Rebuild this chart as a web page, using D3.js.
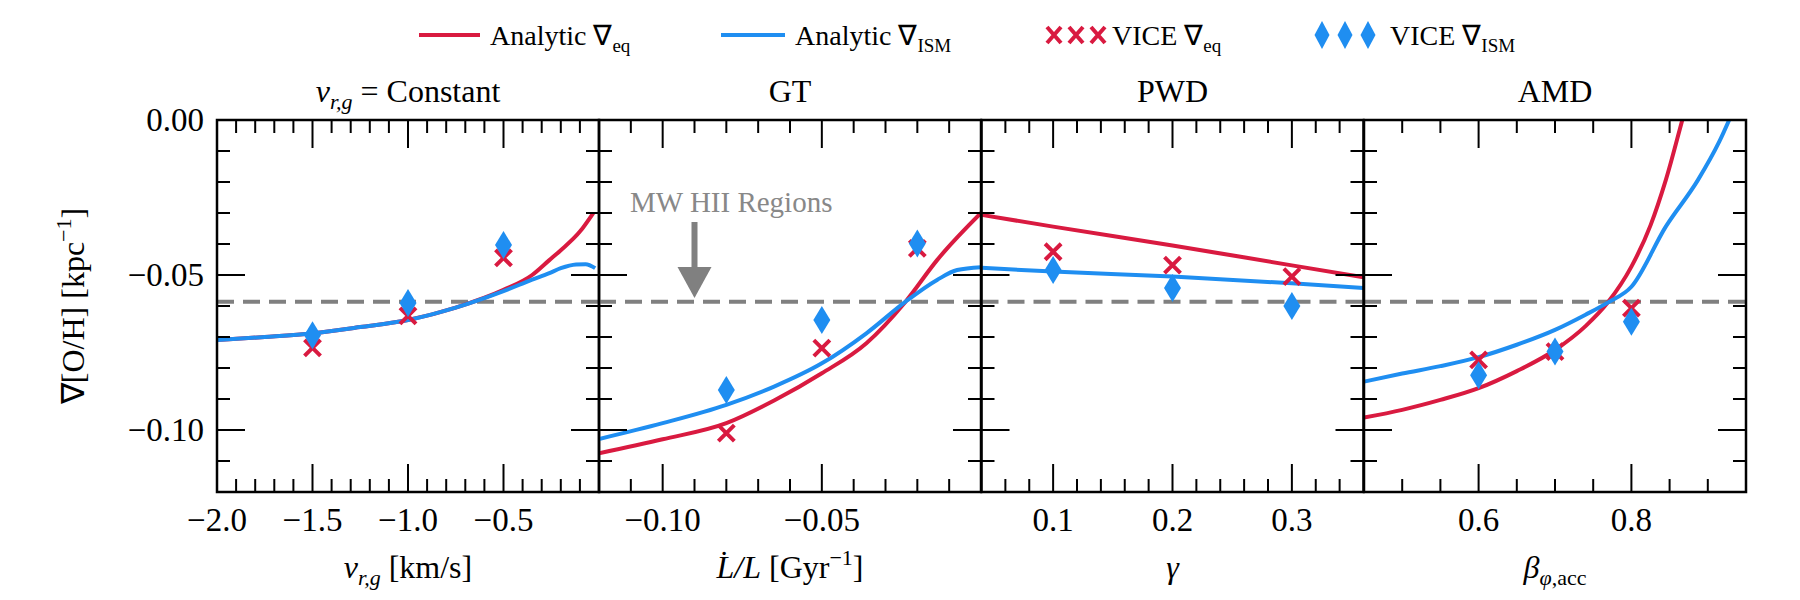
<!DOCTYPE html>
<html><head><meta charset="utf-8">
<script src="https://cdn.jsdelivr.net/npm/d3@7/dist/d3.min.js"></script>
<style>body{margin:0;background:#fff}text{font-family:"Liberation Serif","Times New Roman",serif}</style>
</head><body><svg id="c" width="1800" height="600"></svg>
<script>
// ---- data ----
const panelTitles = ["v_rg = Constant", "GT", "PWD", "AMD"];
const xDomains = [[-2, 0], [-0.12, 0], [0.04, 0.36], [0.45, 0.95]];
const xMajorTicks = [[-2.0, -1.5, -1.0, -0.5], [-0.10, -0.05], [0.1, 0.2, 0.3], [0.6, 0.8]];
const xMinorStep = [0.1, 0.01, 0.02, 0.05];
const xTickFormats = [".1f", ".2f", ".1f", ".1f"];
const yTicks = [0.00, -0.05, -0.10];
const hiiLevel = -0.0586;

// Analytic curves [x, grad]
const p1Eq = [[-2,-0.0710],[-1.75,-0.0700],[-1.5,-0.0688],[-1.25,-0.0668],[-1.0,-0.0645],[-0.75,-0.0605],[-0.5,-0.0548],[-0.35,-0.0500],[-0.26,-0.0452],[-0.2,-0.0420],[-0.1,-0.0360],[-0.03,-0.0300]];
const p1Ism = [[-2,-0.0710],[-1.75,-0.0700],[-1.5,-0.0688],[-1.25,-0.0668],[-1.0,-0.0645],[-0.75,-0.0605],[-0.5,-0.0552],[-0.35,-0.0515],[-0.26,-0.0494],[-0.2,-0.0478],[-0.12,-0.0466],[-0.07,-0.0465],[-0.02,-0.0478]];
const p2Eq = [[-0.12,-0.1075],[-0.10,-0.1030],[-0.08,-0.0978],[-0.065,-0.0905],[-0.05,-0.0817],[-0.036,-0.0720],[-0.0237,-0.0586],[-0.0138,-0.0452],[0,-0.0300]];
const p2Ism = [[-0.12,-0.1029],[-0.10,-0.0978],[-0.08,-0.0919],[-0.065,-0.0860],[-0.05,-0.0785],[-0.036,-0.0688],[-0.0237,-0.0586],[-0.0138,-0.0516],[-0.0075,-0.0484],[0,-0.0475]];
const p3Eq = [[0.04,-0.0306],[0.1,-0.0344],[0.2,-0.0405],[0.3,-0.0469],[0.36,-0.0507]];
const p3Ism = [[0.04,-0.0477],[0.1,-0.0489],[0.2,-0.0505],[0.3,-0.0527],[0.36,-0.0542]];
const p4Eq = [[0.45,-0.0960],[0.5,-0.0935],[0.55,-0.0903],[0.6,-0.0865],[0.65,-0.0810],[0.7,-0.0742],[0.74,-0.0665],[0.769,-0.0589],[0.8,-0.0473],[0.825,-0.0340],[0.845,-0.0194],[0.87,0.003],[0.89,0.02]];
const p4Ism = [[0.45,-0.0844],[0.5,-0.0818],[0.55,-0.0794],[0.6,-0.0765],[0.65,-0.0725],[0.7,-0.0677],[0.74,-0.0628],[0.769,-0.0589],[0.8,-0.0538],[0.845,-0.0344],[0.887,-0.0194],[0.915,-0.0070],[0.935,0.004]];
const eqCurves = [p1Eq, p2Eq, p3Eq, p4Eq];
const ismCurves = [p1Ism, p2Ism, p3Ism, p4Ism];

// VICE points
const viceX = [[-1.5,-1.0,-0.5],[-0.08,-0.05,-0.02],[0.1,0.2,0.3],[0.6,0.7,0.8]];
const viceEq = [[-0.0735,-0.0632,-0.0445],[-0.1010,-0.0736,-0.0414],[-0.0425,-0.0468,-0.0505],[-0.0774,-0.0747,-0.0607]];
const viceIsm = [[-0.0694,-0.0590,-0.0403],[-0.0871,-0.0645,-0.0398],[-0.0484,-0.0542,-0.0600],[-0.0823,-0.0747,-0.0651]];

// ---- drawing ----
const RED = "#d91a40", BLUE = "#1f8ef1";
const svg = d3.select("#c");
const panelLeft = [217, 599, 981.5, 1364], panelW = 382;
const yTop = 120, yBot = 492;
const y = d3.scaleLinear().domain([-0.12, 0]).range([yBot, yTop]);
const defs = svg.append("defs");

function minorRange(dom, step){
  const a = Math.ceil(dom[0]/step - 1e-6), b = Math.floor(dom[1]/step + 1e-6);
  return d3.range(a, b+1).map(i => +(i*step).toFixed(6));
}

panelLeft.forEach((L, i) => {
  const x = d3.scaleLinear().domain(xDomains[i]).range([L, L + panelW]);
  const g = svg.append("g");
  defs.append("clipPath").attr("id", "clip"+i).append("rect")
    .attr("x", L).attr("y", yTop).attr("width", panelW).attr("height", yBot - yTop);
  const pg = g.append("g").attr("clip-path", `url(#clip${i})`);

  pg.append("line").attr("x1", L).attr("x2", L+panelW).attr("y1", y(hiiLevel)).attr("y2", y(hiiLevel))
    .attr("stroke", "#808080").attr("stroke-width", 4).attr("stroke-dasharray", "17,9");

  const line = d3.line().x(d => x(d[0])).y(d => y(d[1])).curve(d3.curveMonotoneX);
  pg.append("path").datum(eqCurves[i]).attr("d", line).attr("fill","none").attr("stroke", RED).attr("stroke-width", 4);
  pg.append("path").datum(ismCurves[i]).attr("d", line).attr("fill","none").attr("stroke", BLUE).attr("stroke-width", 4);

  viceX[i].forEach((vx, j) => {
    const cx = x(vx), cy = y(viceEq[i][j]), s = 8;
    pg.append("path").attr("d", `M${cx-s},${cy-s}L${cx+s},${cy+s}M${cx-s},${cy+s}L${cx+s},${cy-s}`)
      .attr("stroke", RED).attr("stroke-width", 4).attr("fill","none");
  });
  viceX[i].forEach((vx, j) => {
    const cx = x(vx), cy = y(viceIsm[i][j]);
    pg.append("path").attr("d", `M${cx},${cy-14}L${cx+8.5},${cy}L${cx},${cy+14}L${cx-8.5},${cy}Z`).attr("fill", BLUE);
  });

  const tk = (x1,y1,x2,y2) => g.append("line").attr("x1",x1).attr("y1",y1).attr("x2",x2).attr("y2",y2).attr("stroke","#000").attr("stroke-width",2);
  const majX = xMajorTicks[i];
  minorRange(xDomains[i], xMinorStep[i]).forEach(v => {
    const isMaj = majX.some(m => Math.abs(m - v) < 1e-6);
    const len = isMaj ? 28 : 13, px = x(v);
    if (px <= L + 1 || px >= L + panelW - 1) return;
    tk(px, yBot, px, yBot - len); tk(px, yTop, px, yTop + len);
  });
  minorRange([-0.12, 0], 0.01).forEach(v => {
    const isMaj = yTicks.some(m => Math.abs(m - v) < 1e-6);
    const len = isMaj ? 28 : 13, py = y(v);
    tk(L, py, L + len, py); tk(L + panelW, py, L + panelW - len, py);
  });
  g.append("rect").attr("x", L).attr("y", yTop).attr("width", panelW).attr("height", yBot-yTop)
    .attr("fill","none").attr("stroke","#000").attr("stroke-width", 2.5);

  const fx = d3.format(xTickFormats[i]);
  majX.forEach(v => g.append("text").attr("x", x(v)).attr("y", 531).attr("text-anchor","middle")
    .attr("font-size", 33).text(fx(v)));

  if (i === 1) {
    const ax = x(-0.09);
    g.append("text").attr("x", 630).attr("y", 212).attr("font-size", 29).attr("fill", "#888").text("MW HII Regions");
    g.append("rect").attr("x", ax-3).attr("y", 222).attr("width", 6).attr("height", 48).attr("fill", "#808080");
    g.append("path").attr("d", `M${ax-17},267L${ax+17},267L${ax},298Z`).attr("fill", "#808080");
  }
});

const fy = d3.format(".2f");
yTicks.forEach(v => svg.append("text").attr("x", 204).attr("y", y(v) + 11).attr("text-anchor","end")
  .attr("font-size", 33).text(fy(v)));

const cx = i => panelLeft[i] + panelW/2;
let t = svg.append("text").attr("x", cx(0)).attr("y", 102).attr("text-anchor","middle").attr("font-size", 32);
t.append("tspan").attr("font-style","italic").text("v");
t.append("tspan").attr("font-style","italic").attr("font-size", 22).attr("dy", 7).text("r,g");
t.append("tspan").attr("dy", -7).text(" = Constant");
[1,2,3].forEach(i => svg.append("text").attr("x", cx(i)).attr("y", 102).attr("text-anchor","middle").attr("font-size", 32).text(panelTitles[i]));

function xl(i){ return svg.append("text").attr("x", cx(i)).attr("y", 578).attr("text-anchor","middle").attr("font-size", 32); }
t = xl(0);
t.append("tspan").attr("font-style","italic").text("v");
t.append("tspan").attr("font-style","italic").attr("font-size", 22).attr("dy", 7).text("r,g");
t.append("tspan").attr("dy", -7).text(" [km/s]");
t = xl(1);
t.append("tspan").attr("font-style","italic").text("L\u0307/L");
t.append("tspan").text(" [Gyr");
t.append("tspan").attr("font-size", 22).attr("dy", -13).text("\u22121");
t.append("tspan").attr("dy", 13).text("]");
t = xl(2); t.append("tspan").attr("font-style","italic").text("\u03b3");
t = xl(3);
t.append("tspan").attr("font-style","italic").text("\u03b2");
t.append("tspan").attr("font-style","italic").attr("font-size", 22).attr("dy", 7).text("\u03c6");
t.append("tspan").attr("font-size", 22).text(",acc");

t = svg.append("text").attr("transform", `translate(84,${(yTop+yBot)/2}) rotate(-90)`).attr("text-anchor","middle").attr("font-size", 32);
t.append("tspan").text("\u2207[O/H] [kpc");
t.append("tspan").attr("font-size", 22).attr("dy", -13).text("\u22121");
t.append("tspan").attr("dy", 13).text("]");

const leg = svg.append("g");
function legText(x, main, sub){
  const tt = leg.append("text").attr("x", x).attr("y", 45).attr("font-size", 28);
  tt.append("tspan").text(main);
  tt.append("tspan").attr("font-size", 19).attr("dy", 7).text(sub);
}
leg.append("line").attr("x1",419).attr("x2",480).attr("y1",35).attr("y2",35).attr("stroke",RED).attr("stroke-width",4);
legText(490, "Analytic \u2207", "eq");
leg.append("line").attr("x1",721).attr("x2",785).attr("y1",35).attr("y2",35).attr("stroke",BLUE).attr("stroke-width",4);
legText(795, "Analytic \u2207", "ISM");
[1054, 1076, 1098].forEach(mx => leg.append("path").attr("d", `M${mx-7},${35-8}L${mx+7},${35+8}M${mx-7},${35+8}L${mx+7},${35-8}`).attr("stroke",RED).attr("stroke-width",4));
legText(1112, "VICE \u2207", "eq");
[1322, 1345, 1368].forEach(mx => leg.append("path").attr("d", `M${mx},${35-14}L${mx+7.5},35L${mx},${35+14}L${mx-7.5},35Z`).attr("fill",BLUE));
legText(1390, "VICE \u2207", "ISM");
</script></body></html>
